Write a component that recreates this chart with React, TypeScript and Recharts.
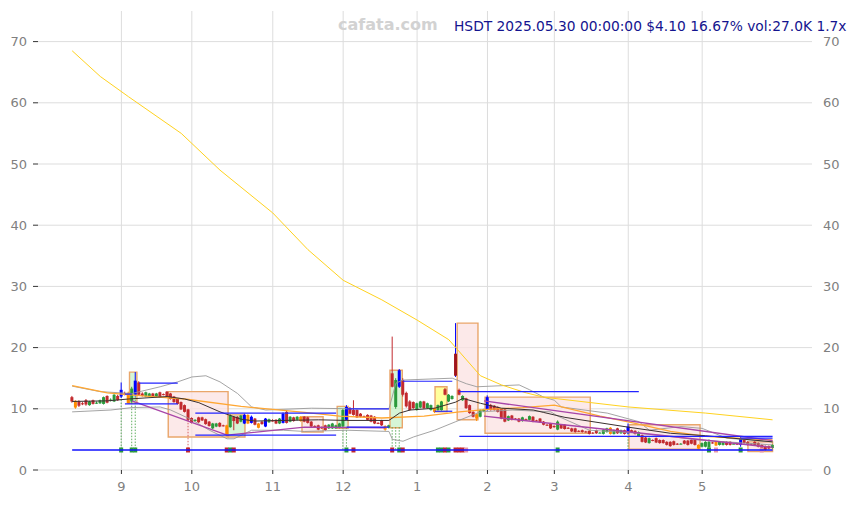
import React from "react";
import { ComposedChart, Bar, Line, XAxis, YAxis, CartesianGrid, ReferenceArea } from "recharts";

// daily candles [open, high, low, close], one list per month
const aug = [
  [11.9, 12.1, 11.0, 11.2], [10.2, 11.4, 10.0, 11.3], [11.2, 11.4, 10.3, 10.5], [10.9, 11.1, 10.6, 10.8],
  [11.4, 11.6, 10.5, 10.7], [10.6, 11.3, 10.5, 11.2], [11.4, 11.5, 10.7, 10.8], [10.9, 11.2, 10.8, 11.0],
  [10.9, 11.5, 10.8, 11.4], [10.8, 12.0, 10.7, 11.9], [12.1, 12.2, 10.9, 11.0], [11.4, 11.7, 11.2, 11.5],
  [11.2, 12.4, 11.1, 12.3], [12.1, 12.3, 11.3, 11.4],
];
const sep = [
  [12.0, 14.3, 11.8, 13.1], [12.5, 12.8, 12.2, 12.3], [12.6, 12.8, 10.8, 10.9], [11.2, 13.6, 11.0, 13.3],
  [12.3, 16.0, 12.0, 14.6], [14.3, 14.5, 12.1, 12.3], [12.5, 12.7, 12.0, 12.1], [12.0, 12.8, 11.9, 12.7],
  [12.0, 12.6, 11.9, 12.5], [12.5, 12.6, 11.9, 12.0], [12.0, 12.6, 11.9, 12.5], [12.7, 12.8, 11.8, 11.9],
  [12.4, 12.5, 12.2, 12.3], [12.8, 12.9, 11.9, 12.0], [12.5, 12.6, 11.5, 11.6], [12.0, 12.1, 11.0, 11.1],
  [11.6, 11.7, 10.7, 10.8], [11.1, 11.2, 9.8, 9.9], [10.6, 10.7, 9.4, 9.5], [9.9, 10.0, 8.0, 8.2],
];
const oct = [
  [8.5, 8.6, 7.6, 7.7], [8.0, 8.3, 7.9, 8.2], [8.6, 8.7, 7.7, 7.8], [8.6, 8.7, 8.0, 8.1],
  [8.3, 8.4, 7.4, 7.5], [7.9, 8.0, 7.1, 7.2], [6.8, 7.7, 6.7, 7.6], [7.1, 7.7, 7.0, 7.6],
  [7.7, 7.8, 7.0, 7.1], [7.3, 7.4, 7.1, 7.2], [5.8, 7.4, 5.5, 7.3], [7.0, 9.1, 6.9, 8.9],
  [8.7, 8.8, 6.5, 8.0], [8.7, 8.8, 7.5, 7.6], [7.9, 9.0, 7.8, 8.9], [7.6, 9.2, 7.5, 9.0],
  [9.0, 9.1, 7.5, 7.6], [7.7, 8.9, 7.6, 8.7], [8.4, 8.5, 7.3, 7.4], [7.6, 7.7, 6.8, 6.9],
  [7.9, 8.0, 7.4, 7.5], [7.1, 8.5, 7.0, 8.4], [7.8, 8.4, 7.7, 8.3],
];
const nov = [
  [8.1, 8.3, 7.9, 8.0], [8.2, 8.3, 7.5, 7.6], [7.6, 8.5, 7.5, 8.4], [7.7, 9.4, 7.6, 9.2],
  [9.5, 9.7, 7.6, 7.7], [7.9, 8.8, 7.8, 8.7], [8.6, 8.7, 7.9, 8.0], [8.2, 8.8, 8.1, 8.7],
  [8.7, 8.8, 7.9, 8.0], [8.7, 8.8, 7.8, 7.9], [8.6, 8.7, 7.6, 7.7], [7.9, 8.0, 7.0, 7.1],
  [7.2, 7.3, 7.0, 7.1], [7.3, 7.4, 6.5, 6.6], [7.0, 7.1, 6.7, 6.8], [7.3, 7.4, 6.4, 6.5],
  [6.8, 7.5, 6.7, 7.4], [6.8, 7.7, 6.7, 7.6], [6.8, 7.4, 6.7, 7.3], [6.9, 7.7, 6.8, 7.6],
];
const dec = [
  [7.1, 10.0, 6.9, 9.8], [8.2, 10.6, 8.1, 10.3], [10.1, 10.3, 9.1, 9.2], [9.8, 11.4, 8.9, 9.0],
  [9.8, 9.9, 8.5, 8.6], [9.2, 9.3, 8.6, 8.7], [8.8, 8.9, 8.6, 8.7], [9.0, 9.1, 8.1, 8.2],
  [8.9, 9.0, 7.8, 7.9], [8.7, 8.8, 7.5, 7.6], [7.7, 7.8, 7.5, 7.6], [8.1, 8.2, 7.2, 7.3],
  [7.2, 7.3, 6.4, 6.6], [6.9, 7.4, 6.8, 7.3], [15.8, 21.8, 13.5, 13.6], [10.3, 15.0, 10.0, 14.7],
  [13.6, 16.5, 13.4, 16.3], [14.7, 15.0, 12.0, 12.3], [12.6, 12.8, 10.2, 10.4], [11.2, 11.4, 9.7, 9.8],
  [11.1, 11.2, 10.0, 10.1],
];
const jan = [
  [9.8, 11.0, 9.7, 10.9], [10.2, 11.3, 10.1, 11.2], [11.2, 11.3, 10.0, 10.1], [10.1, 11.0, 10.0, 10.9],
  [9.8, 10.7, 9.7, 10.6], [10.1, 10.2, 9.3, 9.5], [9.8, 10.7, 9.7, 10.6], [9.8, 11.3, 9.7, 11.2],
  [13.2, 13.4, 12.2, 12.3], [11.2, 12.4, 11.1, 12.3], [11.6, 12.2, 11.5, 12.1], [19.0, 24.0, 15.2, 15.4],
  [13.1, 13.3, 12.2, 12.3], [11.4, 12.2, 11.3, 12.1], [11.7, 11.8, 10.0, 10.1], [10.6, 10.7, 9.2, 9.3],
  [9.5, 9.6, 8.6, 8.7], [8.4, 9.2, 8.0, 9.1], [8.7, 9.9, 8.6, 9.8], [9.6, 10.0, 9.5, 9.9],
];
const feb = [
  [9.8, 12.2, 9.7, 11.9], [10.6, 10.8, 9.7, 9.8], [10.5, 10.6, 9.7, 9.8], [10.3, 10.4, 9.4, 9.5],
  [10.0, 10.1, 8.3, 8.4], [9.9, 10.0, 7.8, 7.9], [8.1, 8.9, 8.0, 8.8], [8.9, 9.0, 8.1, 8.2],
  [8.4, 8.5, 8.2, 8.3], [8.4, 8.5, 7.8, 7.9], [8.0, 8.7, 7.9, 8.6], [8.3, 8.4, 8.1, 8.2],
  [8.2, 8.9, 8.1, 8.8], [8.7, 8.8, 7.8, 7.9], [8.1, 8.2, 7.9, 8.0], [8.4, 8.5, 7.7, 7.8],
  [7.9, 8.0, 7.3, 7.4], [7.4, 7.5, 7.2, 7.3], [7.6, 7.7, 6.7, 6.8],
];
const mar = [
  [7.2, 7.3, 6.9, 7.0], [6.6, 8.1, 6.5, 7.9], [7.4, 7.5, 6.7, 6.8], [7.4, 7.5, 6.6, 6.7],
  [6.9, 7.0, 6.7, 6.8], [6.8, 6.9, 6.2, 6.3], [6.8, 6.9, 6.1, 6.2], [6.4, 6.5, 6.2, 6.3],
  [6.5, 6.6, 6.1, 6.2], [6.3, 6.4, 6.1, 6.2], [6.4, 6.5, 5.8, 5.9], [6.1, 6.2, 5.9, 6.0],
  [6.5, 6.6, 5.9, 6.0], [6.1, 6.2, 6.0, 6.1], [5.9, 6.7, 5.8, 6.6], [6.2, 6.9, 6.1, 6.8],
  [6.9, 7.0, 5.8, 5.9], [5.9, 6.6, 5.8, 6.5], [6.8, 6.9, 5.9, 6.0], [6.0, 6.6, 5.9, 6.5],
  [6.5, 6.6, 5.8, 5.9],
];
const apr = [
  [6.0, 7.6, 5.9, 7.1], [6.5, 6.6, 6.1, 6.2], [6.4, 6.5, 5.8, 5.9], [5.5, 6.3, 5.4, 6.2],
  [5.7, 5.8, 4.5, 4.6], [5.3, 5.4, 4.4, 4.5], [4.4, 5.3, 4.3, 5.2], [4.9, 5.0, 4.7, 4.8],
  [5.2, 5.3, 4.4, 4.5], [4.9, 5.0, 4.3, 4.4], [4.9, 5.0, 4.3, 4.4], [4.6, 4.7, 4.0, 4.1],
  [4.6, 4.7, 3.8, 3.9], [4.7, 4.8, 4.0, 4.1], [4.3, 4.4, 4.1, 4.2], [4.3, 4.4, 4.2, 4.3],
  [4.8, 4.9, 4.2, 4.3], [4.8, 4.9, 4.0, 4.1], [4.9, 5.0, 4.2, 4.3], [4.9, 5.0, 4.0, 4.1],
  [4.1, 4.2, 3.4, 3.5],
];
const may = [
  [3.8, 4.5, 3.7, 4.4], [3.8, 4.7, 3.7, 4.6], [3.7, 5.0, 3.6, 4.6], [4.5, 4.6, 4.3, 4.4],
  [4.6, 4.7, 3.9, 4.0], [4.1, 4.7, 4.0, 4.6], [4.1, 4.7, 4.0, 4.6], [4.6, 4.7, 4.0, 4.1],
  [4.6, 4.7, 4.0, 4.1], [4.3, 4.4, 4.2, 4.3], [4.3, 4.4, 4.1, 4.2], [4.1, 5.4, 3.8, 5.2],
  [4.9, 5.0, 4.3, 4.4], [4.6, 4.7, 4.0, 4.1], [4.3, 4.4, 4.1, 4.2], [4.6, 4.7, 4.0, 4.1],
  [4.4, 4.5, 3.7, 3.8], [4.1, 4.2, 3.3, 3.4], [3.9, 4.0, 3.2, 3.3], [3.9, 4.0, 3.4, 3.51],
  [3.6, 4.2, 3.5, 4.1],
];

// highlighted candles (by day index)
const blueBars = [14, 18, 49, 51, 55, 60, 78, 93, 118, 158, 190];
const orangeBars = [1, 16, 44, 50, 53, 65, 89, 103, 115, 153, 178, 183];
const spikeBars = [109];

const monthTicks = [14, 34, 57, 77, 98, 118, 137, 158, 179];
const monthLabels = ["9", "10", "11", "12", "1", "2", "3", "4", "5"];
const priceTicks = [0, 10, 20, 30, 40, 50, 60, 70];

// overlay lines [day index, price]
const goldMa = [[0, 68.5], [8, 64.3], [16, 61.0], [31, 55.0], [42, 49.0], [57, 42.0], [67, 36.0], [77, 31.0],
  [88, 27.8], [98, 24.5], [107, 21.3], [116, 15.4], [122, 13.9], [129, 12.6], [134, 11.9], [158, 10.3], [180, 9.3], [199, 8.2]];
const orangeMa = [[0, 13.8], [10, 12.6], [20, 12.1], [32, 11.6], [48, 10.4], [66, 9.4], [76, 8.8], [88, 8.5],
  [100, 8.8], [110, 9.5], [118, 9.9], [128, 10.2], [137, 10.6], [150, 8.8], [160, 7.6], [170, 6.3], [180, 5.5], [199, 4.9]];
const darkMa = [[0, 11.2], [10, 11.3], [16, 11.6], [27, 12.0], [32, 11.6], [36, 11.0], [42, 9.5], [48, 8.3], [52, 8.0],
  [60, 8.1], [70, 8.2], [78, 8.1], [90, 8.1], [93, 9.3], [96, 9.8], [103, 10.1], [109, 11.1], [111, 11.7], [116, 10.9],
  [122, 10.1], [131, 9.8], [134, 9.4], [140, 8.6], [158, 7.0], [170, 6.0], [180, 5.6], [199, 4.6]];
const bbUpper = [[0, 13.7], [8, 12.8], [17, 12.5], [25, 13.6], [30, 14.4], [34, 15.2], [38, 15.4], [42, 14.4], [47, 12.5],
  [51, 10.3], [55, 9.8], [68, 10.1], [80, 10.0], [90, 10.0], [92, 14.2], [94, 14.7], [108, 15.0], [112, 14.1], [115, 13.6],
  [127, 13.9], [130, 13.1], [134, 11.9], [137, 11.4], [139, 10.3], [152, 9.3], [161, 7.9], [164, 6.5], [173, 7.1],
  [179, 6.8], [186, 5.2], [199, 4.6]];
const bbLower = [[0, 9.5], [11, 9.8], [17, 10.2], [25, 10.3], [28, 9.8], [34, 8.2], [39, 6.5], [44, 5.1], [46, 5.1],
  [51, 6.5], [60, 6.5], [66, 6.3], [78, 6.5], [90, 6.3], [91, 5.0], [94, 4.7], [97, 5.4], [103, 6.5], [109, 7.9],
  [116, 9.5], [125, 9.8], [136, 9.5], [138, 8.8], [147, 6.5], [161, 6.0], [171, 5.4], [178, 4.9], [199, 4.1]];
const trendA = [[17, 11.3], [44, 5.7], [66, 7.0], [89, 6.9]];
const trendB = [[117, 11.3], [199, 4.8]];
const trendC = [[117, 8.8], [199, 3.7]];

// horizontal levels [from, to, price]
const levels = [[15, 17, 12.4], [15, 30, 10.8], [19, 30, 14.2], [35, 75, 9.3], [35, 75, 5.7], [78, 90, 10.0],
  [78, 90, 7.0], [94, 108, 14.5], [103, 108, 9.6], [110, 161, 12.8], [110, 199, 5.5], [190, 199, 5.2]];
const baseLevel = 3.27;

// zones [from, to, low, high, type]
const zones = [[16.3, 18.4, 10.9, 16.0, "g"], [27.3, 44.3, 5.4, 12.8, "p"], [44.3, 49.1, 5.4, 9.0, "g"],
  [65.3, 71.3, 6.2, 8.7, "p"], [75.3, 78.4, 6.8, 10.4, "g"], [90.3, 93.8, 6.9, 16.3, "g"],
  [103.1, 106.5, 9.5, 13.6, "y"], [109.4, 115.3, 8.2, 24.0, "p"], [117.3, 147.2, 6.0, 11.9, "p"],
  [158.2, 178.4, 3.4, 7.4, "p"], [192.0, 199.0, 3.0, 4.6, "p"]];

// signal markers on the base line, and dotted links up to price
const greenMarks = [14, 17, 18, 45, 78, 93, 104, 105, 107, 138, 181, 190];
const redMarks = [33, 44, 46, 80, 91, 94, 106, 109, 110, 111];
const pinkMarks = [112, 183, 196];
const dotLinks = [[14, 12.0, "g"], [17, 11.0, "g"], [18, 12.0, "g"], [33, 8.2, "r"], [77, 7.0, "g"], [78, 7.0, "g"],
  [91, 7.0, "g"], [92, 7.0, "g"], [93, 7.0, "g"], [158, 6.0, "g"]];

const UP = "#2b9a3c";
const DOWN = "#c22a2e";
const zoneFill: Record<string, string> = { p: "#fbe2e2", g: "#c8f2c8", y: "#ffff7a" };

const bars = [...aug, ...sep, ...oct, ...nov, ...dec, ...jan, ...feb, ...mar, ...apr, ...may];

const data: any[] = bars.map(([o, h, l, c], i) => ({
  i, o, h, l, c,
  range: [l, h],
  kind: spikeBars.includes(i) ? "x" : blueBars.includes(i) ? "b" : orangeBars.includes(i) ? "o" : c >= o ? "g" : "r",
  mk: greenMarks.includes(i) ? UP : redMarks.includes(i) ? DOWN : pinkMarks.includes(i) ? "#e99aa6" : null,
}));
dotLinks.forEach(([i, v, t]) => {
  data[i as number].dot = v;
  data[i as number].dotColor = t === "g" ? "#3a9a3a" : "#d04040";
});
const put = (key: string, pts: number[][]) => pts.forEach(([i, v]) => { data[i][key] = v; });
put("gold", goldMa);
put("ema", orangeMa);
put("ma", darkMa);
put("bbu", bbUpper);
put("bbl", bbLower);
put("ta", trendA);
put("tb", trendB);
put("tc", trendC);
levels.forEach(([a, b, v], k) => { data[a]["lv" + k] = v; data[b]["lv" + k] = v; });
data[0].base = baseLevel;
data[data.length - 1].base = baseLevel;

function Candle(props: any) {
  const { x, y, width, height, payload } = props;
  if (!payload) return null;
  const { o, h, l, c, kind, mk, dot, dotColor } = payload;
  const top = Math.min(y, y + height);
  const bot = Math.max(y, y + height);
  const k = (bot - top) / (h - l);
  const py = (v: number) => top + (h - v) * k;
  const cx = x + width / 2;
  const color = kind === "b" ? "#0000ff" : kind === "o" ? "#ff8c00" : kind === "g" ? UP : kind === "x" ? "#a0141c" : DOWN;
  const bTop = py(Math.max(o, c));
  const bH = Math.max(1, py(Math.min(o, c)) - bTop);
  const baseY = py(baseLevel);
  return (
    <g>
      {dot != null && (
        <line x1={cx} x2={cx} y1={py(dot)} y2={baseY} stroke={dotColor} strokeWidth={0.8} strokeDasharray="1.5 1.5" />
      )}
      <line x1={cx} x2={cx} y1={top} y2={bot} stroke={kind === "x" ? "#0000ff" : color} strokeWidth={1} />
      <rect x={cx - 1.5} y={bTop} width={3} height={bH} fill={color} />
      {mk && <rect x={cx - 2} y={baseY - 2.5} width={4} height={5} fill={mk} />}
    </g>
  );
}

const tickStyle = { fill: "#808080", fontSize: 13, fontFamily: "DejaVu Sans" };

export default function App() {
  return (
    <div style={{ position: "relative", width: 856, height: 505, background: "#fff" }}>
      <style>{"body{margin:0}"}</style>
      <ComposedChart width={856} height={505} data={data} margin={{ top: 11, right: 0, bottom: 0, left: 0 }}>
        <CartesianGrid stroke="#dddddd" yAxisId="l" syncWithTicks />
        <XAxis dataKey="i" type="number" domain={[-9.7, 210.2]} ticks={monthTicks} interval={0}
          tickFormatter={(v: number) => monthLabels[monthTicks.indexOf(v)]} allowDataOverflow
          axisLine={false} tickSize={4} tickMargin={8} tickLine={{ stroke: "#333" }} tick={tickStyle} height={35} />
        <YAxis yAxisId="l" domain={[0, 75]} ticks={priceTicks} width={38} axisLine={false} tickSize={5}
          tickMargin={6} tickLine={{ stroke: "#333" }} tick={tickStyle} allowDataOverflow />
        <YAxis yAxisId="r" orientation="right" domain={[0, 75]} ticks={priceTicks} width={44} axisLine={false}
          tickLine={false} tickMargin={5} tick={tickStyle} allowDataOverflow />
        {zones.map(([a, b, lo, hi, t], k) => (
          <ReferenceArea key={k} yAxisId="l" x1={a as number} x2={b as number} y1={lo as number} y2={hi as number}
            fill={zoneFill[t as string]} fillOpacity={0.75} stroke="#e9a66b" strokeWidth={1.4} />
        ))}
        <Line yAxisId="l" dataKey="bbu" stroke="#9a9a9a" strokeWidth={0.9} dot={false} connectNulls isAnimationActive={false} />
        <Line yAxisId="l" dataKey="bbl" stroke="#9a9a9a" strokeWidth={0.9} dot={false} connectNulls isAnimationActive={false} />
        <Line yAxisId="l" dataKey="gold" stroke="#ffd21f" strokeWidth={1} dot={false} connectNulls isAnimationActive={false} />
        <Line yAxisId="l" dataKey="ema" stroke="#ffa733" strokeWidth={1.3} dot={false} connectNulls isAnimationActive={false} />
        <Line yAxisId="l" dataKey="ma" stroke="#3a3030" strokeWidth={1} dot={false} connectNulls isAnimationActive={false} />
        <Line yAxisId="l" dataKey="ta" stroke="#a845a8" strokeWidth={1.4} dot={false} connectNulls isAnimationActive={false} />
        <Line yAxisId="l" dataKey="tb" stroke="#a845a8" strokeWidth={1.4} dot={false} connectNulls isAnimationActive={false} />
        <Line yAxisId="l" dataKey="tc" stroke="#a845a8" strokeWidth={1.4} dot={false} connectNulls isAnimationActive={false} />
        {levels.map((_, k) => (
          <Line key={k} yAxisId="l" dataKey={"lv" + k} stroke="#2323ff" strokeWidth={1.2} dot={false} connectNulls isAnimationActive={false} />
        ))}
        <Line yAxisId="r" dataKey="base" stroke="#1010ff" strokeWidth={1.5} dot={false} connectNulls isAnimationActive={false} />
        <Bar yAxisId="l" dataKey="range" barSize={3} shape={<Candle />} isAnimationActive={false} />
      </ComposedChart>
      <div style={{ position: "absolute", left: 338, top: 15, fontFamily: "DejaVu Sans", fontWeight: "bold",
        fontSize: 16, color: "#d2d2d2", lineHeight: "20px" }}>cafata.com</div>
      <div style={{ position: "absolute", left: 454, top: 16, fontFamily: "DejaVu Sans", fontSize: 13.8,
        color: "#14148f", lineHeight: "20px", whiteSpace: "nowrap" }}>HSDT 2025.05.30 00:00:00 $4.10 16.67% vol:27.0K 1.7x</div>
    </div>
  );
}
